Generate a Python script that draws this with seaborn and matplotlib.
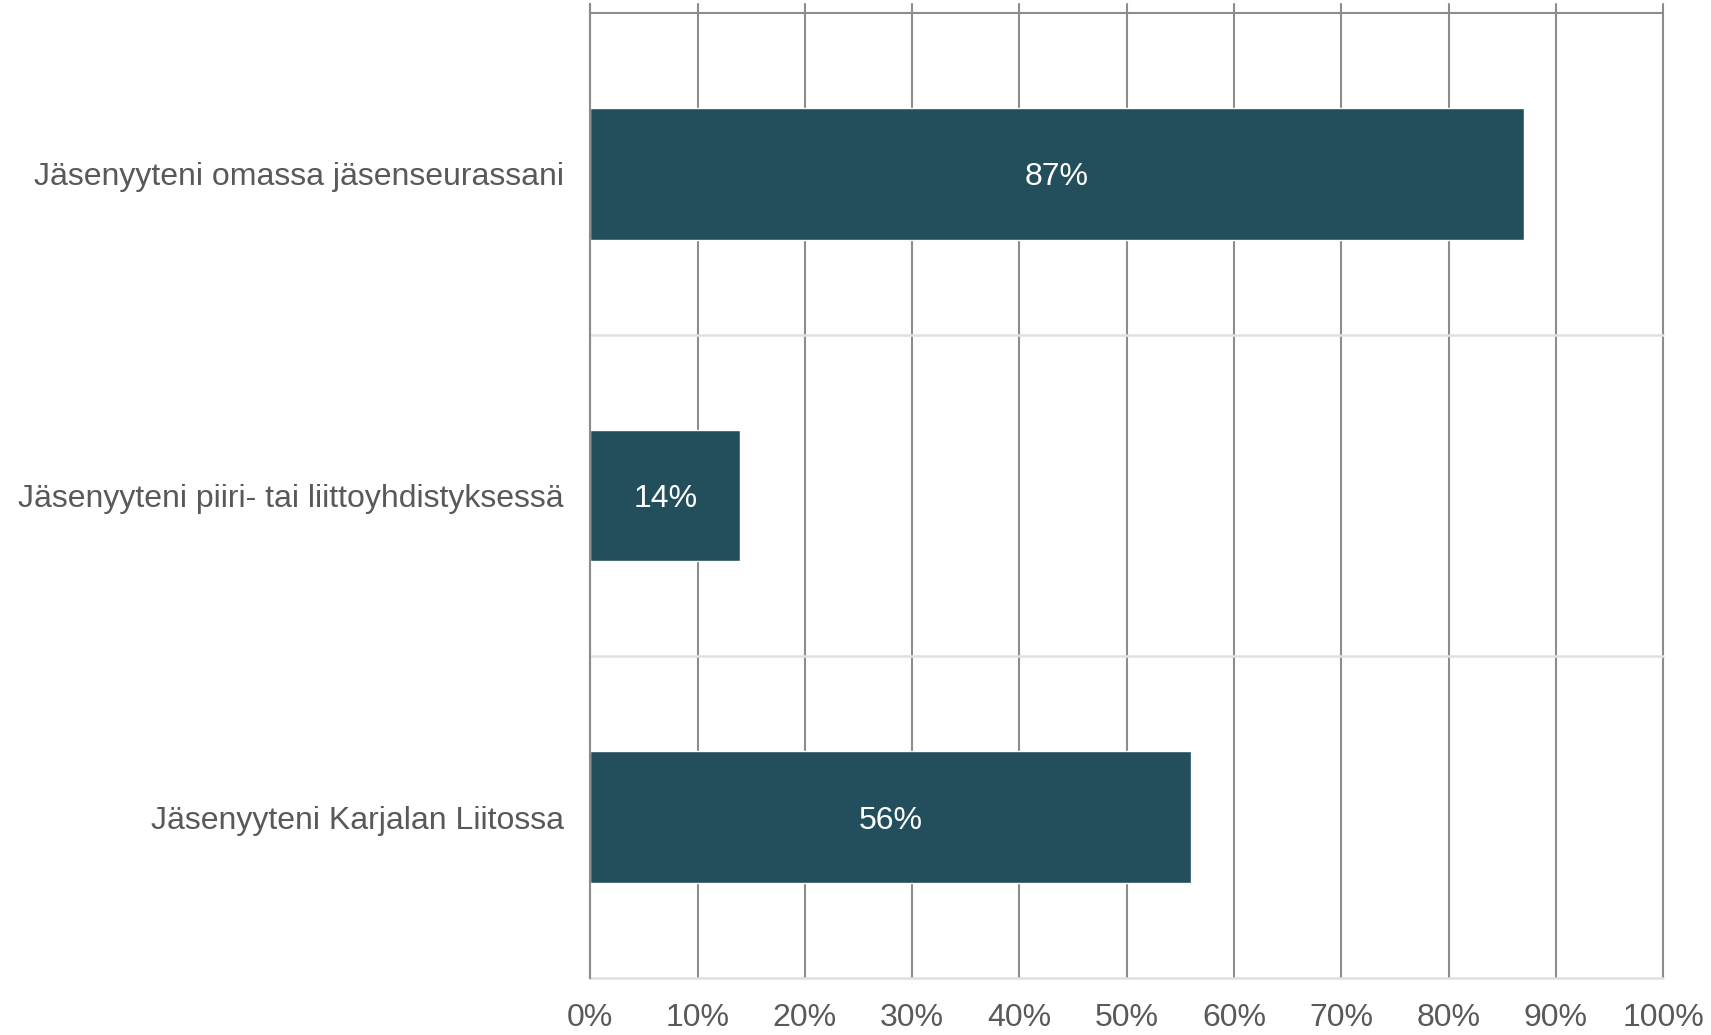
import numpy as np
import pandas as pd
import seaborn as sns
import matplotlib.pyplot as plt
from matplotlib.ticker import FixedLocator

# Data
categories = [
    "Jäsenyyteni omassa jäsenseurassani",
    "Jäsenyyteni piiri- tai liittoyhdistyksessä",
    "Jäsenyyteni Karjalan Liitossa",
]
shares = [87, 14, 56]
x_ticks = list(range(0, 101, 10))
x_labels = [f"{t}%" for t in x_ticks]

BAR = "#234f5c"
TEXT = "#595959"
DARK_GRID = "#8c8c8c"
LIGHT_GRID = "#e0e0e0"

sns.set_style("white")
plt.rcParams["font.family"] = ["Liberation Sans", "DejaVu Sans"]

df = pd.DataFrame({"category": categories, "share": shares})

fig = plt.figure(figsize=(17.11, 10.35), dpi=100)
ax = fig.add_axes([0.345, 0.0551, 0.627, 0.9409])

sns.barplot(data=df, x="share", y="category", orient="h", color=BAR,
            saturation=1, width=0.41, ax=ax, zorder=3)

ax.set_xlim(0, 100)
ax.set_ylim(2.5, -0.528)

# vertical gridlines (dark) at every 10 %
for t in x_ticks:
    ax.axvline(t, color=DARK_GRID, lw=1.5, zorder=1, clip_on=False)
# horizontal category boundaries (light), top one dark
for b in [0.5, 1.5, 2.5]:
    ax.axhline(b, color=LIGHT_GRID, lw=1.8, zorder=1, clip_on=False)
ax.axhline(-0.5, color=DARK_GRID, lw=1.5, zorder=2, clip_on=False)

for s in ["top", "right", "bottom"]:
    ax.spines[s].set_visible(False)
ax.spines["left"].set_color(DARK_GRID)
ax.spines["left"].set_linewidth(1.5)
ax.spines["left"].set_zorder(4)

ax.set_xticks(x_ticks)
ax.set_xticklabels(x_labels)
ax.tick_params(axis="x", length=0, pad=18, labelsize=23, labelcolor=TEXT)

# category labels centred on bars, ticks at boundaries
ax.set_yticks([0, 1, 2])
ax.set_yticklabels(categories)
ax.tick_params(axis="y", which="major", length=0, pad=19, labelsize=23,
               labelcolor=TEXT)
ax.yaxis.set_minor_locator(FixedLocator([-0.5, 0.5, 1.5, 2.5]))
ax.tick_params(axis="y", which="minor", length=6, width=1.5, color=DARK_GRID)

ax.set_xlabel("")
ax.set_ylabel("")

for i, v in enumerate(shares):
    ax.text(v / 2, i, f"{v}%", ha="center", va="center_baseline",
            color="white", fontsize=23, zorder=5)

fig.savefig("out.png", dpi=100)
